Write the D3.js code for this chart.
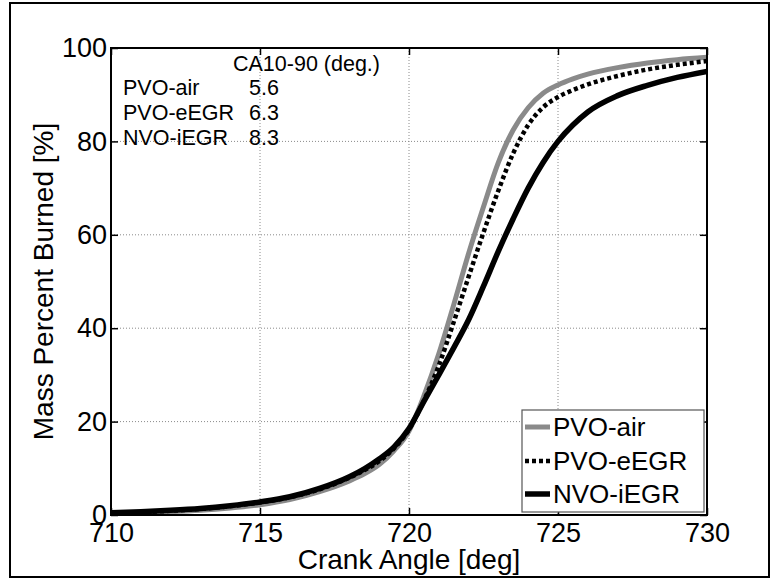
<!DOCTYPE html>
<html>
<head>
<meta charset="utf-8">
<script src="https://cdn.jsdelivr.net/npm/d3@7"></script>
<style>
  html, body { margin: 0; padding: 0; background: #fff; }
  svg { display: block; }
  text { font-family: "Liberation Sans", Arial, sans-serif; fill: #000; }
</style>
</head>
<body>
<svg id="chart" width="772" height="579"></svg>
<script>
// ---------- data ----------
const crankAngle = [710,711,712,713,714,715,716,717,718,718.5,719,719.5,720,720.5,721,721.5,722,722.5,723,723.5,724,724.5,725,725.5,726,727,728,729,730];
const pvoAir  = [0.3,0.5,0.7,1.0,1.5,2.2,3.3,5.0,7.3,8.8,10.8,13.8,18.0,25.5,34.5,45,56,66,75.5,82.5,87.2,90.3,92.1,93.4,94.4,95.8,96.8,97.5,98.0];
const pvoEegr = [0.4,0.6,0.9,1.3,1.9,2.7,3.8,5.5,8.0,9.6,11.5,14.3,18.3,24.5,32,41.3,51,60.5,69.5,77.5,83.5,87.3,89.5,91.0,92.2,94.0,95.4,96.4,97.2];
const nvoIegr = [0.5,0.7,1.0,1.4,2.0,2.8,3.9,5.7,8.2,9.9,12.0,14.6,18.5,24.3,30,35.8,41.8,49,56.5,63.5,70,75.5,80,83.5,86.3,89.8,92.0,93.7,95.0];
const seriesNames = ["PVO-air","PVO-eEGR","NVO-iEGR"];
const xTicks = [710,715,720,725,730];
const yTicks = [0,20,40,60,80,100];
const annotTitle = "CA10-90 (deg.)";
const annotValues = ["5.6","6.3","8.3"];

// ---------- layout ----------
const svg = d3.select("#chart");
const L = 111, R = 707, T = 48, B = 515;
const x = d3.scaleLinear().domain([710,730]).range([L,R]);
const y = d3.scaleLinear().domain([0,100]).range([B,T]);

// outer figure border
svg.append("rect").attr("x",10).attr("y",3).attr("width",759).attr("height",574)
  .attr("fill","none").attr("stroke","#000").attr("stroke-width",2);

// gridlines
const grid = svg.append("g");
grid.selectAll("line.gx").data(xTicks.slice(1,-1)).join("line")
  .attr("x1",d=>x(d)).attr("x2",d=>x(d)).attr("y1",T).attr("y2",B)
  .attr("stroke","#8a8a8a").attr("stroke-width",1).attr("stroke-dasharray","1,2");
grid.selectAll("line.gy").data(yTicks.slice(1,-1)).join("line")
  .attr("x1",L).attr("x2",R).attr("y1",d=>y(d)).attr("y2",d=>y(d))
  .attr("stroke","#8a8a8a").attr("stroke-width",1).attr("stroke-dasharray","1,2");

// axes
const fs = 27;
const gx = svg.append("g").attr("transform",`translate(0,${B})`)
  .call(d3.axisBottom(x).tickValues(xTicks).tickSizeInner(-7).tickSizeOuter(0).tickPadding(8).tickFormat(d3.format("d")));
const gy = svg.append("g").attr("transform",`translate(${L},0)`)
  .call(d3.axisLeft(y).tickValues(yTicks).tickSizeInner(-7).tickSizeOuter(0).tickPadding(4).tickFormat(d3.format("d")));
const gt = svg.append("g").attr("transform",`translate(0,${T})`)
  .call(d3.axisTop(x).tickValues(xTicks).tickSizeInner(-7).tickSizeOuter(0).tickFormat(""));
const gr = svg.append("g").attr("transform",`translate(${R},0)`)
  .call(d3.axisRight(y).tickValues(yTicks).tickSizeInner(-7).tickSizeOuter(0).tickFormat(""));
[gx,gy,gt,gr].forEach(g=>{
  g.select(".domain").remove();
  g.selectAll(".tick line").attr("stroke","#000").attr("stroke-width",1.5);
  g.selectAll("text").attr("font-size",fs).attr("font-family","Liberation Sans, Arial, sans-serif").attr("fill","#000");
});

// curves
const line = d3.line().curve(d3.curveMonotoneX);
const series = [
  {name: seriesNames[0], vals: pvoAir,  color: "#8a8a8a", dash: null,  w: 5},
  {name: seriesNames[1], vals: pvoEegr, color: "#000",    dash: "4,3", w: 4.5},
  {name: seriesNames[2], vals: nvoIegr, color: "#000",    dash: null,  w: 5.5}
];
svg.append("clipPath").attr("id","clip").append("rect")
  .attr("x",L).attr("y",T-4).attr("width",R-L).attr("height",B-T+8);
const cg = svg.append("g").attr("clip-path","url(#clip)");
series.forEach(s=>{
  cg.append("path")
    .attr("d", line(crankAngle.map((a,i)=>[x(a), y(s.vals[i])])))
    .attr("fill","none").attr("stroke",s.color).attr("stroke-width",s.w)
    .attr("stroke-dasharray",s.dash).attr("stroke-linejoin","round");
});

// plot frame
svg.append("rect").attr("x",L).attr("y",T).attr("width",R-L).attr("height",B-T)
  .attr("fill","none").attr("stroke","#000").attr("stroke-width",2);

// axis titles
svg.append("text").attr("x",(L+R)/2).attr("y",569).attr("text-anchor","middle")
  .attr("font-size",28).text("Crank Angle [deg]");
svg.append("text").attr("transform",`translate(53,${(T+B)/2}) rotate(-90)`)
  .attr("text-anchor","middle").attr("font-size",28).text("Mass Percent Burned [%]");

// annotation table
const ann = svg.append("g").attr("font-size",21.5);
ann.append("text").attr("x",233).attr("y",71).attr("font-size",21.5).text(annotTitle);
seriesNames.forEach((n,i)=>{
  ann.append("text").attr("x",123).attr("y",95+25*i).attr("font-size",21.5).text(n);
  ann.append("text").attr("x",249).attr("y",95+25*i).attr("font-size",21.5).text(annotValues[i]);
});

// legend
const lg = svg.append("g");
lg.append("rect").attr("x",522).attr("y",410).attr("width",182).attr("height",102)
  .attr("fill","#fff").attr("stroke","#555").attr("stroke-width",1.2);
const rowBase = [436,470,503];
series.forEach((s,i)=>{
  lg.append("line").attr("x1",525).attr("x2",550)
    .attr("y1",rowBase[i]-9).attr("y2",rowBase[i]-9)
    .attr("stroke",s.color).attr("stroke-width",s.w).attr("stroke-dasharray",s.dash);
  lg.append("text").attr("x",553).attr("y",rowBase[i]).attr("font-size",26).text(s.name);
});
</script>
</body>
</html>
